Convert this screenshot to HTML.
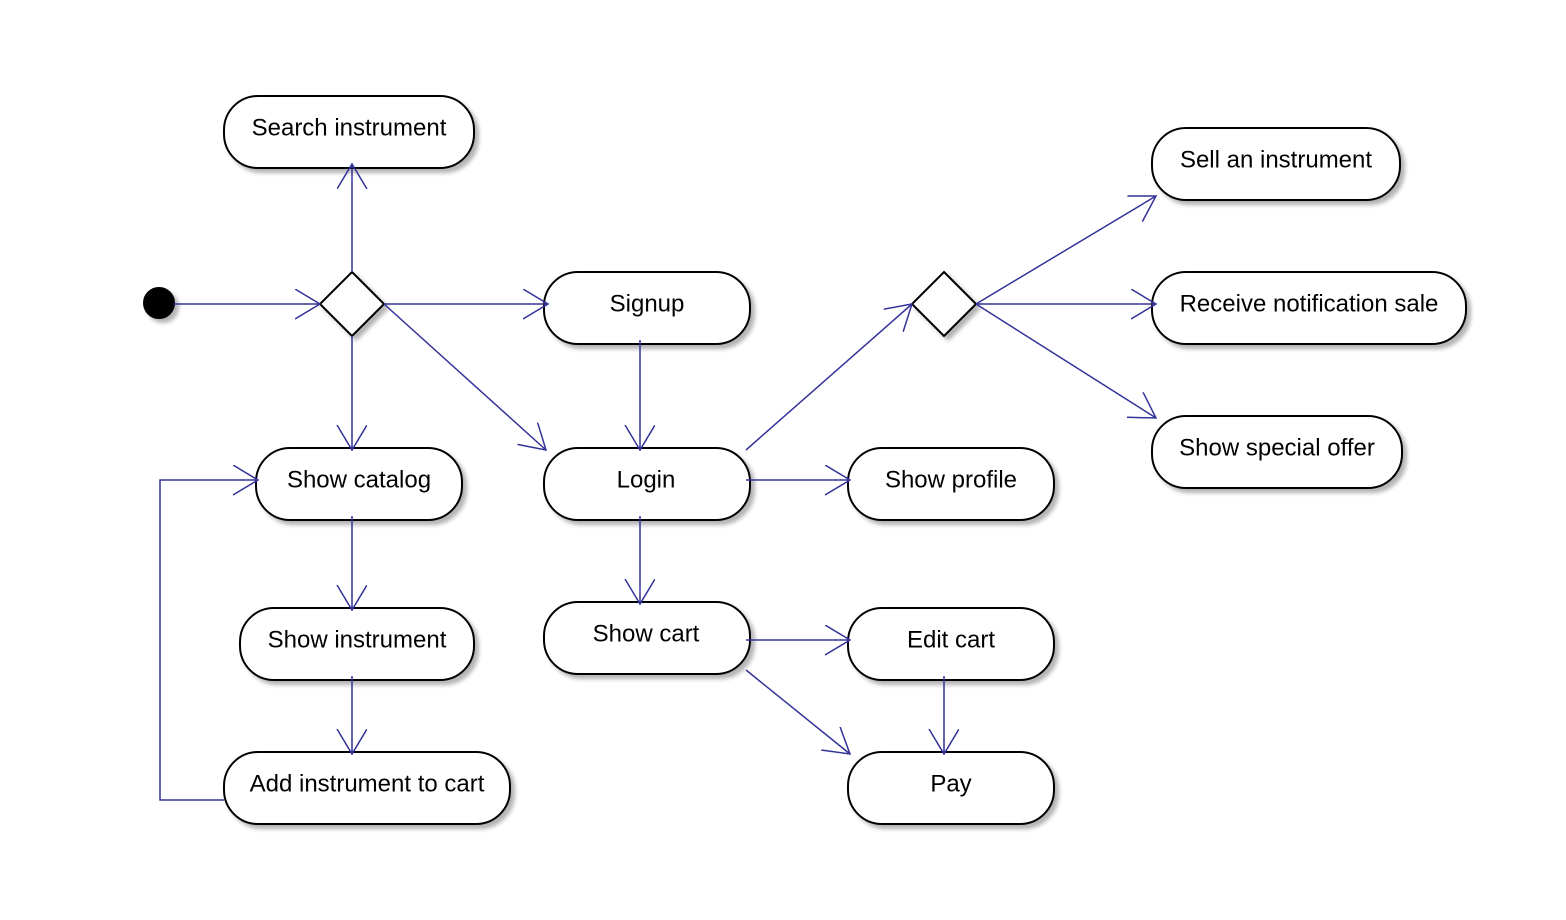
<!DOCTYPE html>
<html><head><meta charset="utf-8"><style>
html,body{margin:0;padding:0;background:#fff;}
svg{display:block;}
text{font-family:"Liberation Sans",sans-serif;font-size:24px;fill:#000;text-anchor:middle;dominant-baseline:central;}
</style></head><body>
<svg width="1566" height="920" viewBox="0 0 1566 920" xmlns="http://www.w3.org/2000/svg">
<defs>
<filter id="sh" x="-10%" y="-20%" width="130%" height="150%">
<feGaussianBlur in="SourceAlpha" stdDeviation="2"/>
<feOffset dx="4" dy="4"/>
<feComponentTransfer><feFuncA type="linear" slope="0.3"/></feComponentTransfer>
<feMerge><feMergeNode/><feMergeNode in="SourceGraphic"/></feMerge>
</filter>
<marker id="a" markerWidth="30" markerHeight="34" refX="25" refY="15" orient="auto" markerUnits="userSpaceOnUse">
<path d="M0,0 L25,15 L0,30" fill="none" stroke="#333399" stroke-width="1.5"/>
</marker>
</defs>
<g fill="#fff" stroke="#000" stroke-width="2" filter="url(#sh)">
<rect x="224" y="96" width="250" height="72" rx="34" ry="34"/>
<rect x="544" y="272" width="206" height="72" rx="34" ry="34"/>
<rect x="256" y="448" width="206" height="72" rx="34" ry="34"/>
<rect x="544" y="448" width="206" height="72" rx="34" ry="34"/>
<rect x="848" y="448" width="206" height="72" rx="34" ry="34"/>
<rect x="240" y="608" width="234" height="72" rx="34" ry="34"/>
<rect x="544" y="602" width="206" height="72" rx="34" ry="34"/>
<rect x="848" y="608" width="206" height="72" rx="34" ry="34"/>
<rect x="224" y="752" width="286" height="72" rx="34" ry="34"/>
<rect x="848" y="752" width="206" height="72" rx="34" ry="34"/>
<rect x="1152" y="128" width="248" height="72" rx="34" ry="34"/>
<rect x="1152" y="272" width="314" height="72" rx="34" ry="34"/>
<rect x="1152" y="416" width="250" height="72" rx="34" ry="34"/>
<polygon points="352,272 384,304 352,336 320,304"/>
<polygon points="944,272 976,304 944,336 912,304"/>
<circle cx="159" cy="303" r="15" fill="#000"/>
</g>
<g stroke="#333399" stroke-width="1.5" fill="none" marker-end="url(#a)">
<line x1="174" y1="304" x2="320" y2="304"/>
<line x1="352" y1="272" x2="352" y2="164"/>
<line x1="384" y1="304" x2="548" y2="304"/>
<line x1="352" y1="336" x2="352" y2="450"/>
<line x1="384" y1="304" x2="546" y2="450"/>
<line x1="640" y1="340" x2="640" y2="450"/>
<line x1="746" y1="480" x2="850" y2="480"/>
<line x1="640" y1="516" x2="640" y2="604"/>
<line x1="746" y1="450" x2="912" y2="304"/>
<line x1="976" y1="304" x2="1156" y2="196"/>
<line x1="976" y1="304" x2="1156" y2="304"/>
<line x1="976" y1="304" x2="1156" y2="418"/>
<line x1="352" y1="516" x2="352" y2="610"/>
<line x1="352" y1="676" x2="352" y2="754"/>
<polyline points="224,800 160,800 160,480 258,480"/>
<line x1="746" y1="640" x2="850" y2="640"/>
<line x1="746" y1="670" x2="850" y2="754"/>
<line x1="944" y1="676" x2="944" y2="754"/>
</g>
<text x="349" y="128">Search instrument</text>
<text x="647" y="304">Signup</text>
<text x="359" y="480">Show catalog</text>
<text x="646" y="480">Login</text>
<text x="951" y="480">Show profile</text>
<text x="357" y="640">Show instrument</text>
<text x="646" y="634">Show cart</text>
<text x="951" y="640">Edit cart</text>
<text x="367" y="784">Add instrument to cart</text>
<text x="951" y="784">Pay</text>
<text x="1276" y="160">Sell an instrument</text>
<text x="1309" y="304">Receive notification sale</text>
<text x="1277" y="448">Show special offer</text>
</svg>
</body></html>
